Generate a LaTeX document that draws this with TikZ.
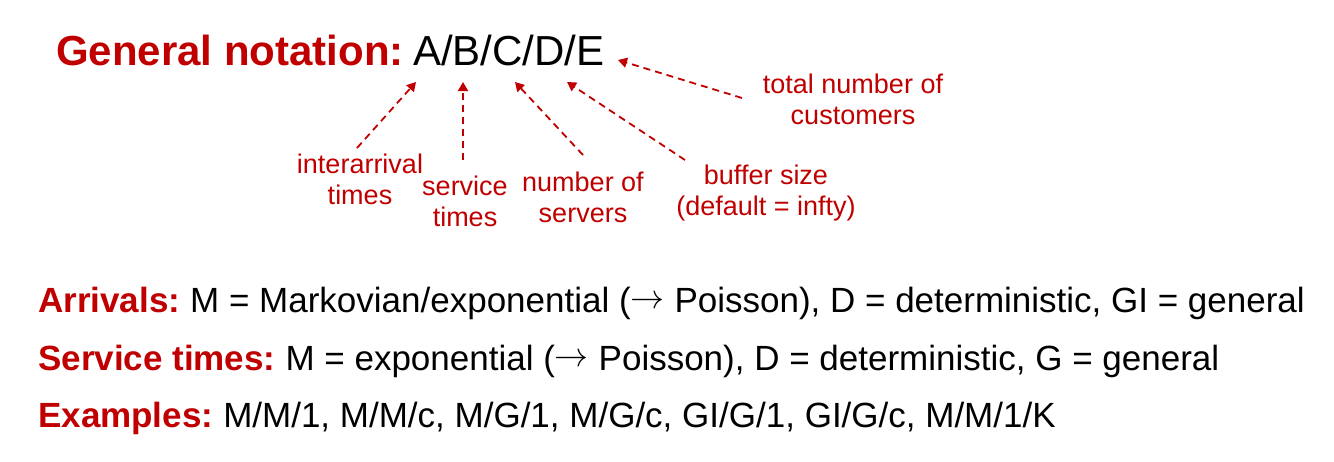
\documentclass[tikz,border=0pt]{standalone}
\usepackage{fontspec}
\setmainfont{Liberation Sans}
\usetikzlibrary{arrows.meta}
\definecolor{dred}{HTML}{C00000}
\newcommand{\rarr}{\raisebox{3.5pt}{\resizebox{34pt}{!}{$\rightarrow$}}}
\begin{document}
\begin{tikzpicture}[x=1pt,y=-1pt,
  lab/.style={text=dred,font=\fontsize{27}{31}\selectfont,align=center,inner sep=0pt},
  ptr/.style={dred,line width=1.8pt,dash pattern=on 7pt off 5pt,-{Triangle[width=10pt,length=9pt]}},
  line/.style={anchor=base west,inner sep=0pt,font=\fontsize{35}{42}\selectfont}]
\useasboundingbox (0,0) rectangle (1334,461);
\node[anchor=base west,inner sep=0pt,text=dred,font=\fontsize{42}{50}\selectfont\bfseries] (title) at (56,65) {General notation:};
\node[anchor=base west,inner sep=0pt,font=\fontsize{42}{50}\selectfont] (abc) at (413,65) {A/B/C/D/E};
\node[lab] (tot) at (853,99) {total number of\\customers};
\node[lab] (ia) at (360,179) {interarrival\\times};
\node[lab] (st) at (465,201) {service\\times};
\node[lab] (ns) at (583,197) {number of\\servers};
\node[lab] (bs) at (766,193) {buffer size\\(default = infty)};
\coordinate (ha) at (416,82);
\coordinate (hb) at (463,82);
\coordinate (hc) at (515,82);
\coordinate (hd) at (567,82);
\coordinate (he) at (618,60);
\coordinate (ta) at (357,148);
\coordinate (tb) at (463,160);
\coordinate (tc) at (583,155);
\coordinate (td) at (685,160);
\coordinate (te) at (742,98);
\draw[ptr] (ta) -- (ha);
\draw[ptr] (tb) -- (hb);
\draw[ptr] (tc) -- (hc);
\draw[ptr] (td) -- (hd);
\draw[ptr] (te) -- (he);
\node[line] (arr) at (38,312) {\textcolor{dred}{\bfseries Arrivals:}\hspace{-3pt} M = Markovian/exponential (\rarr{} Poisson), D = deterministic, GI = general};
\node[line] (svc) at (38,370) {\textcolor{dred}{\bfseries Service times:}\hspace{-3pt} M = exponential (\rarr{} Poisson), D = deterministic, G = general};
\node[line] (ex) at (38,427) {\textcolor{dred}{\bfseries Examples:}\hspace{-3pt} M/M/1, M/M/c, M/G/1, M/G/c, GI/G/1, GI/G/c, M/M/1/K};
\end{tikzpicture}
\end{document}
